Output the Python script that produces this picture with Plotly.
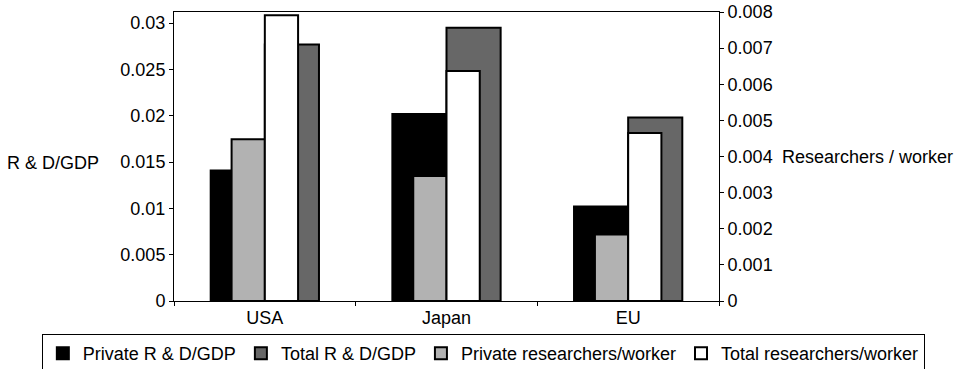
import plotly.graph_objects as go

# Regions compared
regions = ["USA", "Japan", "EU"]

# R & D spending as a share of GDP (left axis)
private_rd_gdp = [0.0141, 0.0202, 0.0102]
total_rd_gdp = [0.0277, 0.0295, 0.0198]

# Researchers per worker (right axis)
private_researchers = [0.00448, 0.00346, 0.00184]
total_researchers = [0.00791, 0.00637, 0.00465]

# Axis tick labels
left_ticks = [0, 0.005, 0.01, 0.015, 0.02, 0.025, 0.03]
left_tick_text = ["0", "0.005", "0.01", "0.015", "0.02", "0.025", "0.03"]
right_ticks = [0, 0.001, 0.002, 0.003, 0.004, 0.005, 0.006, 0.007, 0.008]
right_tick_text = ["0", "0.001", "0.002", "0.003", "0.004", "0.005", "0.006", "0.007", "0.008"]

FONT = "Arial, 'Liberation Sans', sans-serif"
FS = 18
OUTLINE = dict(color="black", width=2)

WIDE = 0.298    # bars on the R & D/GDP axis
NARROW = 0.183  # bars on the researchers/worker axis

W, H = 959, 369
PLOT_X = [174 / W, 719 / W]  # horizontal extent of the plotting area

fig = go.Figure()

fig.add_trace(go.Bar(
    name="Private R & D/GDP", x=regions, y=private_rd_gdp,
    marker=dict(color="#000000", line=OUTLINE),
    width=WIDE, offset=-WIDE, yaxis="y",
))
fig.add_trace(go.Bar(
    name="Total R & D/GDP", x=regions, y=total_rd_gdp,
    marker=dict(color="#676767", line=OUTLINE),
    width=WIDE, offset=0, yaxis="y",
))
fig.add_trace(go.Bar(
    name="Private researchers/worker", x=regions, y=private_researchers,
    marker=dict(color="#b2b2b2", line=OUTLINE),
    width=NARROW, offset=-NARROW, yaxis="y2",
))
fig.add_trace(go.Bar(
    name="Total researchers/worker", x=regions, y=total_researchers,
    marker=dict(color="#ffffff", line=OUTLINE),
    width=NARROW, offset=0, yaxis="y2",
))

axis_line = dict(showline=True, linecolor="black", linewidth=1, showgrid=False,
                 zeroline=False, ticks="outside", ticklen=4, tickcolor="black")

fig.update_layout(
    width=W, height=H,
    margin=dict(l=0, r=0, t=12, b=68, autoexpand=False),
    paper_bgcolor="white", plot_bgcolor="white",
    barmode="overlay",
    font=dict(family=FONT, size=FS, color="black"),
    xaxis=dict(
        **axis_line, mirror=True, tickson="boundaries", domain=PLOT_X,
        range=[-0.5, 2.5], type="category", tickangle=0,
    ),
    yaxis=dict(
        **axis_line, range=[0, 0.0312], anchor="x",
        tickvals=left_ticks, ticktext=left_tick_text,
    ),
    yaxis2=dict(
        **axis_line, overlaying="y", side="right", anchor="x", range=[0, 0.008],
        tickvals=right_ticks, ticktext=right_tick_text,
    ),
    legend=dict(
        orientation="h", x=0.504, xanchor="center", y=-0.114, yanchor="top",
        bordercolor="black", borderwidth=1, bgcolor="white",
        font=dict(family=FONT, size=FS, color="black"),
        traceorder="normal",
    ),
    showlegend=True,
    annotations=[
        dict(text="R & D/GDP", xref="paper", yref="paper", x=101 / W, y=0.477,
             xanchor="right", yanchor="middle", showarrow=False,
             font=dict(family=FONT, size=FS, color="black")),
        dict(text="Researchers / worker", xref="paper", yref="paper", x=780 / W, y=0.5,
             xanchor="left", yanchor="middle", showarrow=False,
             font=dict(family=FONT, size=FS, color="black")),
    ],
)

fig.write_html("out.html")
